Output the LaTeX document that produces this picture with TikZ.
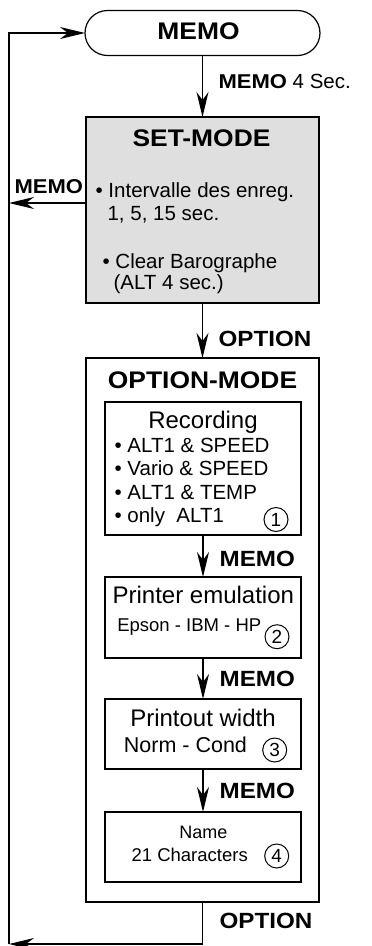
\documentclass[tikz,border=0pt]{standalone}
\usepackage{fontspec}
\setmainfont{Liberation Sans}
\newfontfamily\headfont{Liberation Sans Bold}[FakeStretch=1.1]
\usetikzlibrary{arrows.meta}

\newcommand{\setfs}[1]{\fontsize{#1}{#1}\selectfont}

\tikzset{every picture/.style={line width=1.2pt}}
\tikzset{
  flowbox/.style={draw, inner sep=0pt, outer sep=0pt},
  flowarrow/.style={-{Stealth[length=25pt,width=12pt,inset=8pt]}},
  txt/.style={anchor=base west, inner sep=0pt},
  ctxt/.style={anchor=base, inner sep=0pt},
  circnum/.style={circle, draw, line width=1pt, minimum size=24pt, inner sep=0pt, font=\setfs{19}},
}

\begin{document}
\begin{tikzpicture}[x=1pt,y=1pt,yscale=-1,xscale=1]
    \useasboundingbox (0,0) rectangle (372,946);

    %Shape: Rounded Rect [memo]
    \draw (202.5,33) node [flowbox, minimum width=235pt, minimum height=45pt, rounded corners=22.5pt] (memo) {};
    %Shape: Rectangle [set mode]
    \draw (202.5,210) node [flowbox, fill=gray!25, minimum width=233pt, minimum height=186pt] (setmode) {};
    %Shape: Rectangle [option mode]
    \draw (202.5,630) node [flowbox, minimum width=233pt, minimum height=544pt] (optmode) {};
    %Shape: Rectangle [inner boxes]
    \draw (203,468.5) node [flowbox, minimum width=196pt, minimum height=133pt] (rec) {};
    \draw (203,617.5) node [flowbox, minimum width=196pt, minimum height=81pt] (printer) {};
    \draw (203,734) node [flowbox, minimum width=196pt, minimum height=70pt] (pwidth) {};
    \draw (203,847) node [flowbox, minimum width=196pt, minimum height=70pt] (name) {};

    %Free ends of the loop
    \coordinate (lmemo) at (9,203);
    \coordinate (ltop) at (9,33);
    \coordinate (lbot) at (9,944);
    \coordinate (obot) at (202.5,944);

    %Straight Lines
    \draw [flowarrow] (memo.south) -- (setmode.north);
    \draw [flowarrow] (setmode.south) -- (optmode.north);
    \draw [flowarrow] (rec.south) -- (printer.north);
    \draw [flowarrow] (printer.south) -- (pwidth.north);
    \draw [flowarrow] (pwidth.south) -- (name.north);
    \draw [flowarrow] (setmode.west |- lmemo) -- (lmemo);
    \draw [flowarrow] (lbot) -- (ltop) -- (memo.west);
    \draw [flowarrow] (optmode.south) -- (obot) -- (lbot);

    % Text Node
    \draw (198.5,39.5) node [ctxt] (tmemo) {\headfont\setfs{24}MEMO};
    % Text Node
    \draw (218,88) node [txt] (tfour) {\headfont\setfs{20}MEMO\normalfont\setfs{20.5}\ 4 Sec.};
    % Text Node
    \draw (201.5,146.7) node [ctxt] (tset) {\headfont\setfs{24}SET-MODE};
    % Text Node
    \draw (14,193.3) node [txt] (tlmemo) {\headfont\setfs{20}MEMO};
    % Text Node
    \draw (95,197.3) node [txt] (ts1) {\setfs{20.5}\textbullet\ Intervalle des enreg.};
    \draw (107,220) node [txt] (ts2) {\setfs{20.5}1, 5, 15 sec.};
    \draw (102,268.3) node [txt] (ts3) {\setfs{20.5}\textbullet\ Clear Barographe};
    \draw (113,289) node [txt] (ts4) {\setfs{20.5}(ALT 4 sec.)};
    % Text Node
    \draw (218,346.7) node [txt] (topt) {\headfont\setfs{22}OPTION};
    % Text Node
    \draw (202.5,388.3) node [ctxt] (toptmode) {\headfont\setfs{24}OPTION-MODE};
    % Text Node
    \draw (203,428.3) node [ctxt] (trec) {\setfs{24}Recording};
    \draw (114,452.7) node [txt] (tr1) {\setfs{20.5}\textbullet\ ALT1 \& SPEED};
    \draw (114,475.7) node [txt] (tr2) {\setfs{20.5}\textbullet\ Vario \& SPEED};
    \draw (114,499.3) node [txt] (tr3) {\setfs{20.5}\textbullet\ ALT1 \& TEMP};
    \draw (114,522.7) node [txt] (tr4) {\setfs{20.5}\textbullet\ only\ \ ALT1};
    \draw (276,519.5) node [circnum] (tc1) {1};
    % Text Node
    \draw (219,566.7) node [txt] (tm1) {\headfont\setfs{22}MEMO};
    % Text Node
    \draw (203.3,603.3) node [ctxt] (tprn) {\setfs{24}Printer emulation};
    \draw (116.7,631) node [txt] (tprn2) {\setfs{18.5}Epson - IBM - HP};
    \draw (277,636.7) node [circnum] (tc2) {2};
    % Text Node
    \draw (219,686.7) node [txt] (tm2) {\headfont\setfs{22}MEMO};
    % Text Node
    \draw (203,726) node [ctxt] (twid) {\setfs{24}Printout width};
    \draw (123.3,752.7) node [txt] (twid2) {\setfs{21.5}Norm - Cond};
    \draw (274.7,750) node [circnum] (tc3) {3};
    % Text Node
    \draw (219,798.3) node [txt] (tm3) {\headfont\setfs{22}MEMO};
    % Text Node
    \draw (203.5,838.3) node [ctxt] (tname) {\setfs{18}Name};
    \draw (131,861) node [txt] (tname2) {\setfs{18.5}21 Characters};
    \draw (276.7,856) node [circnum] (tc4) {4};
    % Text Node
    \draw (219,928.3) node [txt] (topt2) {\headfont\setfs{22}OPTION};

\end{tikzpicture}
\end{document}
